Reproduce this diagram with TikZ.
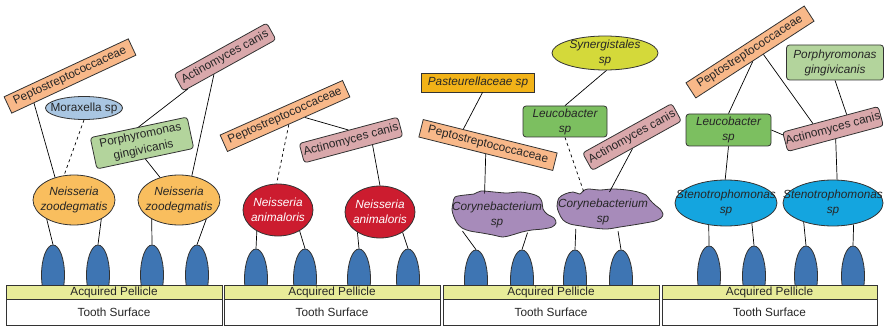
\documentclass[tikz,border=0pt]{standalone}
\usepackage{fontspec}
\setmainfont{Liberation Sans}
\usepackage{tikz}
\usetikzlibrary{shapes.geometric,calc}

\definecolor{pepcol}{HTML}{F8B889}
\definecolor{actcol}{HTML}{D9A8AB}
\definecolor{porcol}{HTML}{B3D49C}
\definecolor{leucol}{HTML}{7CBF60}
\definecolor{morcol}{HTML}{A9C6E2}
\definecolor{pascol}{HTML}{F2B318}
\definecolor{syncol}{HTML}{D4D93A}
\definecolor{zoocol}{HTML}{F9BE5E}
\definecolor{anicol}{HTML}{CC1C2F}
\definecolor{corcol}{HTML}{A78BBA}
\definecolor{stecol}{HTML}{14A5DF}
\definecolor{cellcol}{HTML}{3E75B3}
\definecolor{pelcol}{HTML}{E8EC99}
\newcommand{\bodyfont}{\fontsize{11.8}{15}\selectfont}

\begin{document}
\begin{tikzpicture}[x=1pt, y=-1pt,
  every node/.style={font=\bodyfont, text=black!85, inner sep=0pt},
  it/.style={font=\bodyfont\itshape},
  box/.style={draw=black!80, line width=0.8pt, align=center},
  rbox/.style={box, rounded corners=3pt},
  oval/.style={ellipse, draw=black!80, line width=0.8pt, align=center, inner xsep=-20pt, inner ysep=-6pt},
  spot/.style={ellipse, align=center, inner xsep=-20pt, inner ysep=-6pt},
  cell/.style={ellipse, draw=black!80, line width=0.8pt, fill=cellcol, minimum width=23pt, minimum height=60pt},
  link/.style={line width=0.7pt},
  weak/.style={link, dashed},
  blob/.style={draw=black!80, line width=0.8pt, fill=corcol},
  pel/.style={draw=black!80, line width=1pt, fill=pelcol, minimum height=14pt},
  tooth/.style={draw=black!80, line width=1pt, fill=white, minimum height=26pt}]
  \useasboundingbox (0,0) rectangle (884,326);

  % Panel 1: Neisseria zoodegmatis
  \foreach \x/\n in {53/p1c1, 98/p1c2, 152/p1c3, 197/p1c4}
    \node[cell] (\n) at (\x,275) {};
  \node[oval, it, fill=zoocol, minimum width=82pt, minimum height=50pt] (p1ne1) at (74,200) {Neisseria\\zoodegmatis};
  \node[oval, it, fill=zoocol, minimum width=82pt, minimum height=50pt] (p1ne2) at (179,200) {Neisseria\\zoodegmatis};
  \node[box, fill=pepcol, rotate=25, minimum width=137pt, minimum height=18pt] (p1pep) at (70,76) {Peptostreptococcaceae};
  \node[oval, fill=morcol, minimum width=77pt, minimum height=23pt] (p1mor) at (84,108) {Moraxella sp};
  \node[rbox, fill=actcol, rotate=29, minimum width=106pt, minimum height=19pt] (p1act) at (225,57) {Actinomyces canis};
  \node[rbox, fill=porcol, rotate=12, minimum width=99pt, minimum height=32pt] (p1por) at (142,143) {Porphyromonas\\gingivicanis};
  \draw[link] ($(p1pep.south west)!0.18!(p1pep.south east)$) -- (p1ne1.130);
  \draw[weak] (p1mor.south) -- (p1ne1.112);
  \draw[link] ($(p1act.south west)!0.05!(p1act.south east)$) -- (p1por.north);
  \draw[link] ($(p1act.south west)!0.33!(p1act.south east)$) -- (p1ne2.62);
  \draw[link] (p1por.south) -- (p1ne2.130);
  \draw[link] (p1ne1.215) -- (p1c1.north);
  \draw[link] (p1ne1.325) -- (p1c2.north);
  \draw[link] (p1ne2.215) -- (p1c3.north);
  \draw[link] (p1ne2.325) -- (p1c4.north);

  % Panel 2: Neisseria animaloris
  \foreach \x/\n in {256/p2c1, 305/p2c2, 359/p2c3, 408/p2c4}
    \node[cell] (\n) at (\x,279) {};
  \node[oval, it, fill=anicol, text=white, minimum width=70pt, minimum height=52pt] (p2ne1) at (278,210) {Neisseria\\animaloris};
  \node[oval, it, fill=anicol, text=white, minimum width=70pt, minimum height=52pt] (p2ne2) at (380,212) {Neisseria\\animaloris};
  \node[box, fill=pepcol, rotate=24, minimum width=134pt, minimum height=18pt] (p2pep) at (285,116) {Peptostreptococcaceae};
  \node[rbox, fill=actcol, rotate=15, minimum width=102pt, minimum height=20pt] (p2act) at (351,140) {Actinomyces canis};
  \draw[weak] (p2pep.south) -- (p2ne1.93);
  \draw[link] ($(p2pep.south west)!0.63!(p2pep.south east)$) -- (p2act.north);
  \draw[link] ($(p2act.south west)!0.69!(p2act.south east)$) -- (p2ne2.north);
  \draw[link] (p2ne1.225) -- (p2c1.north);
  \draw[link] (p2ne1.316) -- (p2c2.north);
  \draw[link] (p2ne2.222) -- (p2c3.north);
  \draw[link] (p2ne2.318) -- (p2c4.north);

  % Panel 3: Corynebacterium sp
  \foreach \x/\n in {476/p3c1, 522/p3c2, 575/p3c3, 621/p3c4}
    \node[cell] (\n) at (\x,280) {};
  \draw[blob] plot[smooth cycle, tension=0.55] coordinates {
    (455,197) (465,195) (474,194) (481,191) (494,192) (507,193) (520,192)
    (532,194) (539,197) (542,202) (543,209) (547,214) (554,218) (556,223)
    (552,227) (543,229) (532,230) (522,232) (512,235) (503,237) (493,235)
    (482,233) (470,231) (462,228) (457,223) (454,217) (452,210) (453,203)};
  \draw[blob] plot[smooth cycle, tension=0.55] coordinates {
    (559,198) (565,194) (573,192) (580,194) (583,191) (588,189) (600,190)
    (613,189) (627,190) (638,192) (646,195) (650,200) (655,205) (660,209)
    (663,214) (661,218) (655,221) (645,223) (633,225) (620,227) (607,229)
    (594,228) (581,226) (570,224) (563,220) (559,213) (557,206)};
  \node[spot, it, minimum width=100pt, minimum height=44pt] (p3co1) at (497,215) {Corynebacterium\\sp};
  \node[spot, it, minimum width=100pt, minimum height=40pt] (p3co2) at (603,212) {Corynebacterium\\sp};
  \node[box, it, fill=pascol, minimum width=113pt, minimum height=19pt] (p3pas) at (478,82.5) {Pasteurellaceae sp};
  \node[box, fill=pepcol, rotate=-14, minimum width=138pt, minimum height=18pt] (p3pep) at (488,145) {Peptostreptococcaceae};
  \node[rbox, it, fill=leucol, minimum width=84pt, minimum height=31pt] (p3leu) at (565,121.5) {Leucobacter\\sp};
  \node[oval, it, fill=syncol, minimum width=106pt, minimum height=34pt] (p3syn) at (605,53) {Synergistales\\sp};
  \node[rbox, fill=actcol, rotate=29, minimum width=102pt, minimum height=20pt] (p3act) at (632,137) {Actinomyces canis};
  \draw[link] ($(p3pas.south west)!0.54!(p3pas.south east)$) -- ($(p3pep.north west)!0.3!(p3pep.north east)$);
  \draw[link] (p3pep.south) -- (p3co1.120);
  \draw[link] (p3syn.275) -- (p3leu.north);
  \draw[weak] (p3leu.south) -- (p3co2.135);
  \draw[link] ($(p3act.south west)!0.45!(p3act.south east)$) -- (p3co2.72);
  \draw[link] (p3co1.205) -- (p3c1.north);
  \draw[link] (p3co1.330) -- (p3c2.north);
  \draw[link] (p3co2.212) -- (p3c3.north);
  \draw[link] (p3co2.308) -- (p3c4.north);

  % Panel 4: Stenotrophomonas sp
  \foreach \x/\n in {709/p4c1, 754/p4c2, 806/p4c3, 853/p4c4}
    \node[cell] (\n) at (\x,276) {};
  \node[oval, it, fill=stecol, minimum width=102pt, minimum height=46pt] (p4st1) at (726,203) {Stenotrophomonas\\sp};
  \node[oval, it, fill=stecol, minimum width=100pt, minimum height=46pt] (p4st2) at (833,203) {Stenotrophomonas\\sp};
  \node[box, fill=pepcol, rotate=33, minimum width=141pt, minimum height=18pt] (p4pep) at (750,52) {Peptostreptococcaceae};
  \node[rbox, it, fill=porcol, minimum width=97pt, minimum height=35pt] (p4por) at (835,62.5) {Porphyromonas\\gingivicanis};
  \node[rbox, it, fill=leucol, minimum width=85pt, minimum height=32pt] (p4leu) at (728.5,130) {Leucobacter\\sp};
  \node[rbox, fill=actcol, rotate=15, minimum width=99pt, minimum height=20pt] (p4act) at (833,129) {Actinomyces canis};
  \draw[link] ($(p4pep.south west)!0.48!(p4pep.south east)$) -- (p4leu.north);
  \draw[link] ($(p4pep.south west)!0.57!(p4pep.south east)$) -- ($(p4act.north west)!0.32!(p4act.north east)$);
  \draw[link] (p4por.south) -- ($(p4act.north west)!0.67!(p4act.north east)$);
  \draw[link] (p4leu.east) -- ($(p4act.north west)!0.15!(p4act.south west)$);
  \draw[link] (p4leu.south) -- (p4st1.92);
  \draw[link] (p4act.south) -- (p4st2.80);
  \draw[link] (p4st1.232) -- (p4c1.north);
  \draw[link] (p4st1.322) -- (p4c2.north);
  \draw[link] (p4st2.213) -- (p4c3.north);
  \draw[link] (p4st2.314) -- (p4c4.north);

  % pellicle and tooth surface under each panel
  \foreach \c/\w/\n in {114/216/1, 332/216/2, 551/216/3, 769.5/215/4} {
    \node[pel, minimum width=\w pt] (pel\n) at (\c,292) {Acquired Pellicle};
    \node[tooth, minimum width=\w pt] (tooth\n) at (\c,312) {Tooth Surface};
  }
\end{tikzpicture}
\end{document}
